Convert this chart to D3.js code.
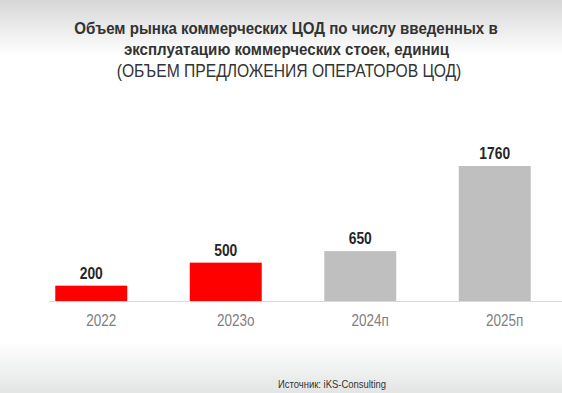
<!DOCTYPE html>
<html>
<head>
<meta charset="utf-8">
<script src="https://cdn.jsdelivr.net/npm/d3@7"></script>
<style>
  html, body { margin: 0; padding: 0; background: #fff; }
  svg { display: block; }
</style>
</head>
<body>
<div id="chart"></div>
<script>
// chart data
var titleLines = ["Объем рынка коммерческих ЦОД по числу введенных в",
                  "эксплуатацию коммерческих стоек, единиц",
                  "(ОБЪЕМ ПРЕДЛОЖЕНИЯ ОПЕРАТОРОВ ЦОД)"];
var categories = ["2022", "2023о", "2024п", "2025п"];
var values = [200, 500, 650, 1760];
var kinds = ["fact", "fact", "forecast", "forecast"];
var sourceText = "Источник: iKS-Consulting";

var width = 562;
var height = 393;
var baseY = 301;

var svg = d3.select("#chart").append("svg")
  .attr("width", width)
  .attr("height", height);

// background with gray fades at top and bottom
var grad = svg.append("defs").append("linearGradient")
  .attr("id", "bg")
  .attr("x1", 0).attr("y1", 0).attr("x2", 0).attr("y2", 1);
grad.append("stop").attr("offset", "0%").attr("stop-color", "#d6d6d6");
grad.append("stop").attr("offset", "14%").attr("stop-color", "#ffffff");
grad.append("stop").attr("offset", "87%").attr("stop-color", "#ffffff");
grad.append("stop").attr("offset", "100%").attr("stop-color", "#e3e5e5");
svg.append("rect")
  .attr("width", width)
  .attr("height", height)
  .attr("fill", "url(#bg)");

var x = d3.scaleBand()
  .domain(categories)
  .range([24, 562])
  .paddingInner(0.465)
  .paddingOuter(0.2325);

var y = d3.scaleLinear()
  .domain([0, d3.max(values)])
  .range([baseY, 166]);

var color = d3.scaleOrdinal()
  .domain(["fact", "forecast"])
  .range(["#ff0000", "#bfbfbf"]);

// title, slightly condensed like the original
var title = svg.append("g").attr("font-family", "'Liberation Sans', Arial, sans-serif").attr("fill", "#333");
var titleSpec = [
  {cx: 286, y: 34, size: 16.5, weight: "bold", sx: 0.915},
  {cx: 286.5, y: 55, size: 16.5, weight: "bold", sx: 0.915},
  {cx: 289, y: 77, size: 18, weight: "normal", sx: 0.87}
];
titleLines.forEach(function(t, i)
{
  var s = titleSpec[i];
  title.append("text")
    .attr("transform", "translate(" + s.cx + "," + s.y + ") scale(" + s.sx + ",1)")
    .attr("text-anchor", "middle")
    .attr("font-size", s.size)
    .attr("font-weight", s.weight)
    .text(t);
});

// axis
var axis = svg.append("g")
  .attr("transform", "translate(0," + baseY + ")")
  .call(d3.axisBottom(x).tickSize(0).tickPadding(0));
axis.select(".domain").remove();
axis.selectAll(".tick text")
  .attr("font-family", "'Liberation Sans', Arial, sans-serif")
  .attr("font-size", 16.5)
  .attr("fill", "#7f7f7f")
  .attr("y", 25.5)
  .attr("dy", null)
  .attr("transform", "translate(10,0) scale(0.82,1)");

svg.append("line")
  .attr("x1", x(categories[0]) - 6)
  .attr("x2", width)
  .attr("y1", baseY + 0.5)
  .attr("y2", baseY + 0.5)
  .attr("stroke", "#d9d9d9");

// bars
svg.selectAll(".bar")
  .data(values)
  .enter().append("rect")
  .attr("class", "bar")
  .attr("x", function(d, i) { return x(categories[i]); })
  .attr("y", function(d) { return y(d); })
  .attr("width", x.bandwidth())
  .attr("height", function(d) { return baseY - y(d); })
  .attr("fill", function(d, i) { return color(kinds[i]); });

// value labels
svg.selectAll(".val")
  .data(values)
  .enter().append("text")
  .attr("class", "val")
  .attr("text-anchor", "middle")
  .attr("font-family", "'Liberation Sans', Arial, sans-serif")
  .attr("font-weight", "bold")
  .attr("font-size", 16.5)
  .attr("fill", "#262626")
  .attr("transform", function(d, i)
  {
    var cx = x(categories[i]) + x.bandwidth() / 2;
    return "translate(" + cx + "," + (y(d) - 7) + ") scale(0.84,1)";
  })
  .text(function(d) { return d; });

// source
svg.append("text")
  .attr("transform", "translate(332,388) scale(0.86,1)")
  .attr("text-anchor", "middle")
  .attr("font-family", "'Liberation Sans', Arial, sans-serif")
  .attr("font-size", 11)
  .attr("fill", "#333")
  .text(sourceText);
</script>
</body>
</html>
